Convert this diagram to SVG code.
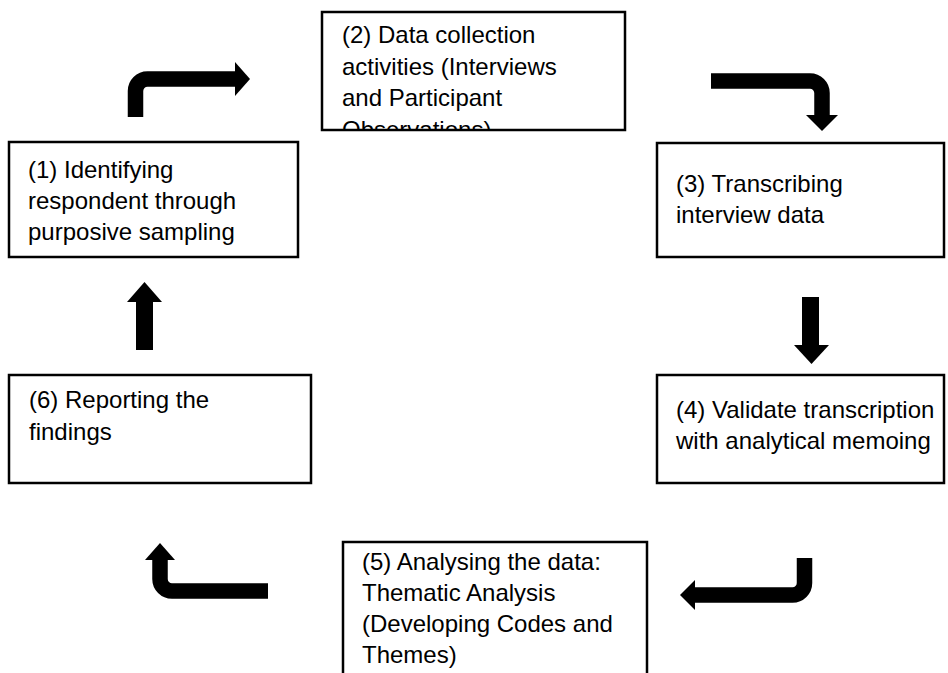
<svg xmlns="http://www.w3.org/2000/svg" width="948" height="673" viewBox="0 0 948 673">
<style>
.box{fill:#fff;stroke:#000;stroke-width:2.5}
.t{font-family:"Liberation Sans",Arial,sans-serif;font-size:24px;fill:#000}
.shaft{fill:none;stroke:#000;stroke-width:15.5}
.head{fill:#000}
</style>
<defs>
<clipPath id="c2"><rect x="323" y="13" width="301" height="116"/></clipPath>
</defs>
<rect width="948" height="673" fill="#fff"/>
<g id="node1">
<rect class="box" x="9" y="142" width="289" height="115"/>
<text class="t" x="28" y="178">(1) Identifying</text>
<text class="t" x="28" y="209">respondent through</text>
<text class="t" x="28" y="240">purposive sampling</text>
</g>
<g id="node2">
<rect class="box" x="322" y="12" width="303" height="118"/>
<g clip-path="url(#c2)">
<text class="t" x="342" y="43">(2) Data collection</text>
<text class="t" x="342" y="75">activities (Interviews</text>
<text class="t" x="342" y="106">and Participant</text>
<text class="t" x="342" y="138">Observations)</text>
</g>
</g>
<g id="node3">
<rect class="box" x="657" y="143" width="287" height="114"/>
<text class="t" x="676" y="192">(3) Transcribing</text>
<text class="t" x="676" y="223">interview data</text>
</g>
<g id="node4">
<rect class="box" x="657" y="375" width="287" height="108"/>
<text class="t" x="676" y="418">(4) Validate transcription</text>
<text class="t" x="676" y="449">with analytical memoing</text>
</g>
<g id="node5">
<rect class="box" x="343" y="542" width="304" height="150"/>
<text class="t" x="362" y="570">(5) Analysing the data:</text>
<text class="t" x="362" y="601">Thematic Analysis</text>
<text class="t" x="362" y="632">(Developing Codes and</text>
<text class="t" x="362" y="663">Themes)</text>
</g>
<g id="node6">
<rect class="box" x="9" y="375" width="302" height="108"/>
<text class="t" x="29" y="408">(6) Reporting the</text>
<text class="t" x="29" y="440">findings</text>
</g>
<g id="connectors">
<path class="shaft" d="M135.5,117 V91 A12,12 0 0 1 147.5,79 H236"/>
<polygon class="head" points="235,62 250,79 235,96"/>
<path class="shaft" d="M711,81 H810 A12,12 0 0 1 822,93 V116"/>
<polygon class="head" points="806,115 838,115 822,131"/>
<rect class="head" x="802" y="297" width="17" height="49"/>
<polygon class="head" points="794,345 829,345 811.5,364"/>
<path class="shaft" d="M804.5,558 V583 A12,12 0 0 1 792.5,595 H694"/>
<polygon class="head" points="695,580 680,595 695,610"/>
<path class="shaft" d="M268,591 H172 A12,12 0 0 1 160,579 V559"/>
<polygon class="head" points="145,560 175,560 160,543"/>
<rect class="head" x="136" y="301" width="17" height="49"/>
<polygon class="head" points="127,302 162,302 144.5,282"/>
</g>
</svg>
